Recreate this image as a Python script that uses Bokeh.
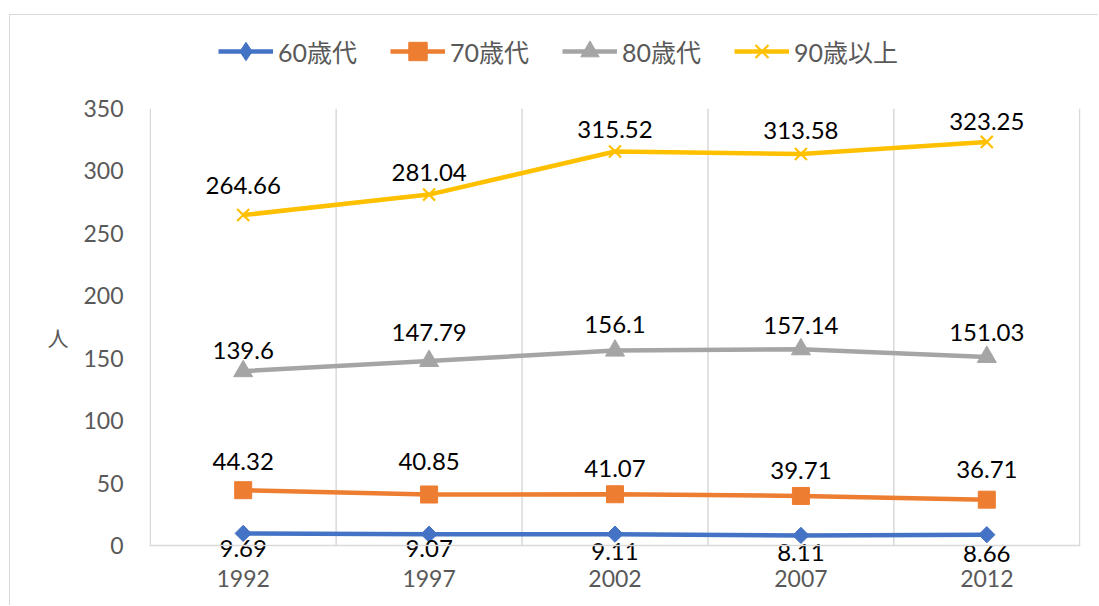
from bokeh.plotting import figure
from bokeh.layouts import column
from bokeh.models import (FixedTicker, Legend, LegendItem, Range1d, Span,
                          ColumnDataSource)
from bokeh.core.properties import value
from bokeh.embed import file_html
from bokeh.resources import INLINE
import math

# ---- data ----
years = [1992, 1997, 2002, 2007, 2012]
series_names = ["60歳代", "70歳代", "80歳代", "90歳以上"]
s60 = [9.69, 9.07, 9.11, 8.11, 8.66]
s70 = [44.32, 40.85, 41.07, 39.71, 36.71]
s80 = [139.6, 147.79, 156.1, 157.14, 151.03]
s90 = [264.66, 281.04, 315.52, 313.58, 323.25]
y_ticks = [0, 50, 100, 150, 200, 250, 300, 350]
y_label = "人"

# ---- styles ----
colors = ["#4472C4", "#ED7D31", "#A5A5A5", "#FFC000"]
markers = ["square", "square", "triangle", "x"]
legend_markers = ["diamond", "square", "triangle", "x"]
angles = [math.pi / 4, 0, 0, 0]
sizes = [11.5, 17, 19, 17]
# screen-pixel offsets of the data labels (as placed in the reference)
label_dy = [
    [15, 14, 17, 17, 19],
    [-29, -33, -26, -25, -30],
    [-21, -28, -26, -24, -24],
    [-30, -22, -22, -23, -20],
]
FONT = "Lato, 'Noto Sans CJK JP'"
GRID = "#D9D9D9"
W = 1088
H_LEG = 60
H_MAIN = 530

xs = list(range(len(years)))
pad = 0.004
all_series = [s60, s70, s80, s90]

# ---------------- main chart ----------------
p = figure(width=W, height=H_MAIN, output_backend="svg", toolbar_location=None,
           x_range=Range1d(-0.5 - pad, len(years) - 0.5 + pad),
           y_range=Range1d(-16, y_ticks[-1]),
           min_border_left=139, min_border_right=18, min_border_top=33,
           min_border_bottom=40)
p.outline_line_color = None
p.background_fill_color = "white"
p.border_fill_color = "white"

# grid: vertical lines at category boundaries, from 0 up to top tick
p.xgrid.grid_line_color = None
p.ygrid.grid_line_color = None
bounds = [i - 0.5 for i in range(len(years) + 1)]
p.segment(x0=bounds, y0=[y_ticks[0]] * len(bounds), x1=bounds,
          y1=[y_ticks[-1]] * len(bounds), line_color=GRID, line_width=1.5)
p.add_layout(Span(location=y_ticks[0], dimension="width", line_color=GRID,
                  line_width=1.5))

# x axis
p.xaxis.ticker = FixedTicker(ticks=xs)
p.xaxis.major_label_overrides = {i: str(y) for i, y in zip(xs, years)}
p.xaxis.axis_line_color = None
p.xaxis.major_tick_line_color = None
p.xaxis.minor_tick_line_color = None
p.xaxis.major_tick_out = 0
p.xaxis.minor_tick_out = 0
p.xaxis.major_label_standoff = 4
p.xaxis.major_label_text_font = FONT
p.xaxis.major_label_text_font_size = "23px"
p.xaxis.major_label_text_color = "#595959"

# y axis
p.yaxis.ticker = FixedTicker(ticks=y_ticks)
p.yaxis.axis_line_color = None
p.yaxis.major_tick_line_color = None
p.yaxis.minor_tick_line_color = None
p.yaxis.major_tick_out = 0
p.yaxis.minor_tick_out = 0
p.yaxis.major_label_standoff = 26
p.yaxis.major_label_text_font = FONT
p.yaxis.major_label_text_font_size = "23px"
p.yaxis.major_label_text_color = "#595959"
p.yaxis.axis_label = y_label
p.yaxis.axis_label_orientation = "horizontal"
p.yaxis.axis_label_text_font = "Noto Sans CJK JP"
p.yaxis.axis_label_text_font_style = "normal"
p.yaxis.axis_label_text_font_size = "21px"
p.yaxis.axis_label_text_color = "#595959"
p.yaxis.axis_label_text_baseline = "alphabetic"
p.yaxis.axis_label_standoff = 12

for vals, col, mk, ang, sz, dy in zip(all_series, colors, markers, angles,
                                      sizes, label_dy):
    src = ColumnDataSource(dict(x=xs, y=vals, t=[f"{v:g}" for v in vals], dy=dy))
    p.line("x", "y", source=src, line_color=col, line_width=4.5)
    if mk == "x":
        p.scatter("x", "y", source=src, marker=mk, size=sz, angle=ang,
                  line_color=col, line_width=2.2)
    else:
        p.scatter("x", "y", source=src, marker=mk, size=sz, angle=ang,
                  fill_color=col, line_color=col)
    p.text("x", "y", text="t", source=src, text_font=value("Lato"),
           text_font_size="24px", text_color="#000000", text_align="center",
           text_baseline="middle", y_offset="dy")

# ---------------- legend strip ----------------
# same series drawn out of view; only the legend of this strip is visible
lf = figure(width=W, height=H_LEG, output_backend="svg", toolbar_location=None,
            x_range=Range1d(1000, 1001), y_range=Range1d(1000, 1001),
            x_axis_location=None, y_axis_location=None,
            min_border_left=0, min_border_right=0, min_border_top=0,
            min_border_bottom=0)
lf.outline_line_color = None
lf.xgrid.grid_line_color = None
lf.ygrid.grid_line_color = None
lf.background_fill_color = "white"
lf.border_fill_color = "white"

items = []
for name, vals, col, mk in zip(series_names, all_series, colors, legend_markers):
    lr = lf.line(xs, vals, line_color=col, line_width=4.5)
    if mk == "x":
        sr = lf.scatter(xs, vals, marker=mk, line_color=col, line_width=2.2)
    else:
        sr = lf.scatter(xs, vals, marker=mk, fill_color=col, line_color=col)
    items.append(LegendItem(label=name, renderers=[lr, sr]))

legend = Legend(items=items, orientation="horizontal", location=(69, 1),
                glyph_width=55, glyph_height=46, label_standoff=5, spacing=33,
                padding=0, margin=0, border_line_color=None,
                background_fill_alpha=0, label_text_font=FONT,
                label_text_font_size="25px", label_text_color="#595959")
lf.add_layout(legend, "center")

layout = column(lf, p, spacing=0)
layout.margin = (14, 0, 0, 9)
layout.styles = {"border-top": "1.5px solid #D9D9D9",
                 "border-left": "1.5px solid #D9D9D9"}

open("out.html", "w").write(file_html(layout, INLINE))
